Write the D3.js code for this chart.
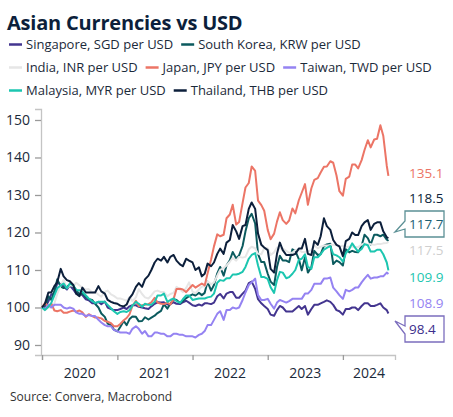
<!DOCTYPE html>
<html>
<head>
<meta charset="utf-8">
<script src="https://cdn.jsdelivr.net/npm/d3@7"></script>
<style>
  body { margin: 0; background: #fff; }
  svg { display: block; font-family: "Open Sans", sans-serif; }
</style>
</head>
<body>
<svg width="453" height="417"></svg>
<script>
// semi-monthly observations (1st and 15th), Jan 2020 .. Aug 2024, index Jan 2020 = 100
var dates = d3.timeMonth.range(new Date(2020, 0, 1), new Date(2024, 7, 1))
  .flatMap(function(m) { return [m, new Date(m.getFullYear(), m.getMonth(), 15)]; })
  .concat([new Date(2024, 7, 1), new Date(2024, 7, 9)]);

var sgd = [100, 100.1, 101.6, 103.5, 103.7, 106.5, 106.3, 105.6, 104.8, 105.9, 104.8, 103.7, 103.7, 103.3, 102.2, 101.9, 101.1, 101.1, 101.5, 100.9, 101.6, 100.0, 99.6, 99.3,
  99.3, 99.6, 100.0, 99.6, 100.3, 100.6, 100.6, 100.2, 100.0, 99.8, 99.6, 100.3, 101.0, 101.4, 101.3, 101.4, 100.8, 100.9, 101.4, 101.0, 100.9, 101.4, 101.8, 101.3,
  100.6, 100.4, 100.8, 100.5, 101.1, 101.1, 100.9, 101.3, 103.0, 103.6, 102.4, 103.7, 104.1, 104.1, 102.6, 102.6, 103.7, 104.5, 106.5, 106.9, 105.0, 102.2, 101.1, 100.4,
  99.6, 98.1, 97.8, 99.3, 100.4, 100.0, 98.9, 98.9, 98.9, 99.6, 100.4, 99.6, 100.4, 98.1, 99.6, 100.7, 100.7, 101.1, 101.5, 101.9, 101.5, 100.7, 99.3, 99.0,
  98.1, 99.6, 99.6, 100.0, 100.0, 99.3, 100.4, 101.1, 101.1, 100.4, 100.4, 100.7, 101.1, 100.0, 99.3, 98.4];

var krw = [100, 99.7, 103.0, 102.0, 104.3, 107.5, 105.6, 105.2, 105.6, 106.0, 105.6, 104.7, 103.4, 103.7, 102.8, 102.2, 102.0, 101.0, 100.0, 98.4, 97.5, 95.7, 95.3, 94.1,
  93.6, 94.8, 96.4, 95.3, 96.9, 97.6, 97.5, 96.3, 96.4, 97.4, 96.8, 97.3, 97.8, 98.5, 99.1, 100.9, 99.7, 101.0, 102.2, 102.0, 101.2, 101.7, 102.5, 103.0,
  103.5, 103.2, 103.9, 103.3, 103.9, 106.9, 104.5, 106.0, 109.1, 110.8, 108.5, 111.2, 112.6, 114.8, 113.1, 113.9, 116.4, 120.3, 123.8, 125.0, 122.4, 114.2, 112.1, 112.1,
  109.0, 106.9, 106.0, 110.8, 113.8, 112.5, 112.5, 112.1, 115.5, 115.1, 112.9, 109.9, 113.4, 109.3, 110.8, 115.1, 114.0, 114.2, 116.4, 116.8, 117.0, 111.6, 112.5, 112.1,
  111.2, 115.5, 114.7, 115.1, 114.8, 114.7, 116.4, 119.4, 118.5, 116.8, 119.4, 119.4, 119.0, 119.4, 118.1, 117.7];

var inr = [100, 99.3, 100.0, 100.0, 101.1, 103.6, 105.9, 107.4, 105.2, 105.9, 105.7, 106.6, 105.9, 105.2, 104.8, 104.9, 104.0, 104.2, 103.4, 102.9, 104.2, 104.5, 103.5, 103.1,
  102.4, 102.4, 102.1, 101.8, 102.8, 101.7, 102.7, 104.9, 103.6, 102.7, 102.4, 103.2, 104.3, 104.5, 104.1, 104.1, 103.0, 103.6, 103.9, 105.5, 104.8, 104.1, 105.2, 106.7,
  104.2, 103.8, 104.8, 105.6, 105.6, 107.0, 106.2, 106.7, 108.5, 110.0, 110.5, 111.2, 112.2, 113.2, 112.5, 113.5, 113.3, 113.5, 115.5, 116.2, 115.8, 114.3, 114.2, 115.8,
  115.8, 114.0, 114.7, 116.0, 115.7, 115.7, 115.1, 114.6, 114.6, 115.3, 115.5, 114.8, 114.8, 115.0, 115.3, 116.5, 115.8, 116.2, 116.5, 116.5, 116.7, 116.7, 116.7, 116.2,
  116.5, 116.2, 116.2, 116.2, 116.1, 116.1, 116.8, 117.1, 116.8, 116.9, 116.7, 116.9, 116.9, 117.1, 117.2, 117.5];

var jpy = [100, 101.2, 100.2, 101.1, 99.2, 99.0, 99.3, 98.6, 98.6, 98.9, 99.2, 98.9, 99.2, 98.7, 97.5, 98.2, 97.7, 97.3, 97.3, 97.1, 96.4, 96.2, 95.8, 95.0,
  95.0, 95.6, 96.6, 97.2, 98.2, 100.4, 101.8, 100.3, 100.6, 100.7, 100.9, 101.4, 102.6, 101.3, 101.0, 100.9, 101.3, 100.8, 102.3, 104.9, 105.0, 104.8, 104.1, 105.0,
  106.0, 105.3, 105.9, 106.4, 105.9, 109.1, 112.8, 116.3, 119.5, 119.0, 119.4, 123.8, 124.8, 127.4, 122.1, 122.8, 127.9, 132.0, 133.2, 137.6, 136.4, 128.5, 127.3, 125.8,
  120.7, 118.2, 119.7, 122.9, 125.4, 123.3, 122.3, 123.2, 126.4, 125.1, 128.6, 130.6, 132.9, 127.4, 131.8, 134.0, 134.5, 136.0, 137.5, 137.6, 139.0, 138.6, 135.2, 131.0,
  129.8, 134.3, 134.9, 138.1, 138.1, 137.1, 139.3, 142.0, 144.6, 142.7, 144.8, 145.0, 148.6, 145.8, 137.8, 135.1];

var twd = [100, 99.7, 100.7, 100.0, 100.7, 100.7, 100.7, 100.0, 99.7, 100.0, 99.7, 98.7, 98.3, 98.3, 97.7, 98.0, 97.7, 97.7, 96.7, 96.0, 95.3, 95.0, 95.0, 94.0,
  93.7, 93.3, 93.3, 93.3, 93.0, 94.3, 95.0, 94.3, 93.0, 93.7, 92.3, 92.3, 93.3, 93.3, 93.0, 93.0, 92.3, 92.3, 93.0, 93.0, 92.7, 92.7, 92.3, 92.3,
  92.3, 92.0, 92.7, 93.0, 93.7, 95.3, 95.3, 96.7, 98.3, 99.0, 96.7, 99.3, 99.3, 100.0, 99.7, 100.0, 102.0, 104.0, 106.0, 106.7, 107.7, 103.3, 102.0, 102.0,
  102.3, 101.0, 99.7, 101.3, 102.0, 101.7, 101.3, 101.7, 102.3, 102.3, 102.3, 102.3, 103.7, 103.7, 104.7, 106.3, 106.3, 106.3, 107.7, 107.7, 108.0, 105.3, 104.3, 103.3,
  102.3, 104.7, 104.3, 104.7, 105.3, 105.3, 106.7, 107.7, 108.7, 107.7, 108.0, 108.0, 108.3, 108.3, 109.3, 108.9];

var myr = [100, 99.3, 100.2, 101.2, 103.2, 105.1, 105.9, 106.4, 105.1, 106.4, 105.9, 104.6, 104.6, 104.2, 103.2, 102.4, 101.7, 101.2, 101.5, 101.5, 101.5, 100.7, 99.8, 99.0,
  98.3, 98.8, 99.0, 98.8, 99.3, 100.5, 101.5, 101.0, 100.2, 101.0, 100.7, 100.7, 101.5, 103.2, 103.2, 103.7, 101.5, 102.0, 102.4, 101.7, 101.2, 102.2, 103.2, 103.2,
  102.0, 102.2, 102.4, 102.4, 102.4, 102.7, 102.9, 103.7, 106.6, 107.3, 107.1, 107.8, 107.8, 108.8, 108.8, 109.0, 109.5, 110.8, 113.0, 114.0, 114.5, 111.2, 108.1, 108.1,
  107.6, 105.4, 103.9, 107.3, 109.5, 109.3, 107.8, 108.1, 109.0, 110.0, 112.7, 113.0, 114.2, 110.8, 110.3, 113.4, 113.4, 114.2, 115.4, 115.9, 116.4, 114.2, 113.9, 113.4,
  112.2, 114.4, 115.6, 117.1, 115.9, 114.9, 115.6, 116.9, 116.6, 114.9, 114.9, 115.4, 115.4, 114.2, 112.0, 109.9];

var thb = [100, 101.0, 104.0, 104.0, 105.7, 106.7, 110.3, 108.3, 107.3, 107.0, 106.0, 103.7, 103.0, 105.3, 104.0, 104.0, 104.0, 104.0, 105.7, 104.3, 103.7, 102.0, 101.5, 101.2,
  101.0, 100.5, 100.3, 100.8, 102.5, 103.5, 105.5, 106.5, 105.5, 107.5, 108.5, 110.0, 112.0, 113.0, 112.5, 113.5, 112.0, 113.5, 114.0, 112.5, 111.5, 111.0, 113.0, 112.5,
  112.0, 110.0, 110.7, 108.3, 109.0, 111.7, 111.0, 112.0, 114.3, 115.7, 114.3, 117.3, 118.0, 122.0, 120.3, 118.3, 121.7, 122.0, 126.3, 128.0, 126.3, 119.7, 116.7, 116.0,
  115.3, 110.3, 109.3, 114.3, 117.3, 115.3, 114.0, 114.0, 114.0, 114.3, 115.7, 115.7, 118.3, 114.3, 114.0, 117.7, 116.7, 119.0, 123.8, 121.7, 120.7, 118.0, 116.7, 116.3,
  113.7, 117.7, 118.3, 120.0, 119.3, 119.3, 121.7, 122.7, 123.3, 120.7, 122.3, 122.7, 122.7, 120.3, 118.7, 118.5];

var names = ["Singapore, SGD per USD", "South Korea, KRW per USD", "India, INR per USD", "Japan, JPY per USD",
  "Taiwan, TWD per USD", "Malaysia, MYR per USD", "Thailand, THB per USD"];
var values = [sgd, krw, inr, jpy, twd, myr, thb];
var colors = ["#43358f", "#0b5a5e", "#e6e6e6", "#ec7566", "#9583f2", "#1cc6b0", "#0c1f3b"];
var labelColors = ["#3b2e8c", "#1d5f73", "#cfcfcf", "#ec7566", "#9583f2", "#1cc6b0", "#0c1f3b"];
var yTicks = [90, 100, 110, 120, 130, 140, 150];
var years = [2020, 2021, 2022, 2023, 2024];
var legendRows = [[0, 1], [2, 3, 4], [5, 6]];

// end label layout: series index, text y, boxed?
var endLabels = [[3, 173, false], [6, 198, false], [1, 224, true], [2, 250, false], [5, 277, false], [4, 303, false], [0, 329, true]];

var svg = d3.select("svg");
var ink = "#1b2a3a";

var x = d3.scaleTime()
    .domain([new Date(2020, 0, 1), new Date(2024, 8, 10)])
    .range([42, 395]);
var y = d3.scaleLinear()
    .domain([87.33, 152.93])
    .range([355, 109]);

svg.append("text")
    .attr("x", 7).attr("y", 30)
    .attr("font-size", 20).attr("font-weight", "bold")
    .attr("letter-spacing", -0.2)
    .attr("fill", "#0c1f3b")
    .text("Asian Currencies vs USD");

// legend
legendRows.forEach(function(row, r) {
  var lx = 9, ly = 49 + r * 23;
  row.forEach(function(i) {
    svg.append("line")
        .attr("x1", lx).attr("x2", lx + 13)
        .attr("y1", ly - 4.5).attr("y2", ly - 4.5)
        .attr("stroke", colors[i]).attr("stroke-width", 2.5);
    var t = svg.append("text")
        .attr("x", lx + 17).attr("y", ly)
        .attr("font-size", 13).attr("fill", ink)
        .text(names[i]);
    lx += 17 + t.node().getComputedTextLength() + 8;
  });
});

// axes
var yAxis = svg.append("g")
    .attr("transform", "translate(41,0)")
    .call(d3.axisLeft(y).tickValues(yTicks).tickSize(6).tickPadding(5));
yAxis.select(".domain").attr("stroke", "#c4c4c4").attr("stroke-width", 1.3);
yAxis.selectAll(".tick line").attr("stroke", "#9a9a9a").attr("stroke-width", 1.3);
yAxis.selectAll(".tick text").attr("font-size", 14).attr("fill", ink).attr("font-family", "Open Sans");

var xAxis = svg.append("g")
    .attr("transform", "translate(0,355)")
    .call(d3.axisBottom(x).tickValues(years.map(function(yr) { return new Date(yr, 0, 1); }))
      .tickSize(5).tickFormat(""));
xAxis.select(".domain").attr("stroke", "#c4c4c4").attr("stroke-width", 1.3);
xAxis.selectAll(".tick line").attr("stroke", "#9a9a9a").attr("stroke-width", 1.3);

years.forEach(function(yr) {
  var a = x(new Date(yr, 0, 1)), b = Math.min(x(new Date(yr + 1, 0, 1)), x.range()[1]);
  svg.append("text")
      .attr("x", (a + b) / 2).attr("y", 378)
      .attr("text-anchor", "middle")
      .attr("font-size", 14).attr("fill", ink)
      .text(yr);
});

// lines
var line = d3.line()
    .x(function(d, i) { return x(dates[i]); })
    .y(function(d) { return y(d); });

values.forEach(function(v, i) {
  svg.append("path")
      .datum(v)
      .attr("fill", "none")
      .attr("stroke", colors[i])
      .attr("stroke-width", 2)
      .attr("stroke-linejoin", "round")
      .attr("d", line);
});

// end labels
endLabels.forEach(function(l) {
  var i = l[0], ty = l[1];
  var last = values[i][values[i].length - 1];
  if (l[2]) {
    var tipY = i == 1 ? ty + 8 : ty - 8;
    svg.append("path")
        .attr("d", "M405," + (ty - 13) + "H444V" + (ty + 13) + "H405V" + (ty + 5) +
          "L395," + tipY + "L405," + (ty - 3) + "Z")
        .attr("fill", "#fff")
        .attr("stroke", i == 1 ? "#5b9095" : "#7b6dbd")
        .attr("stroke-width", 1.3);
  }
  svg.append("text")
      .attr("x", 409).attr("y", ty + 5)
      .attr("font-size", 13.5)
      .attr("fill", labelColors[i])
      .text(d3.format(".1f")(last));
});

svg.append("text")
    .attr("x", 10).attr("y", 401)
    .attr("font-size", 12).attr("fill", "#333")
    .text("Source: Convera, Macrobond");
</script>
</body>
</html>
